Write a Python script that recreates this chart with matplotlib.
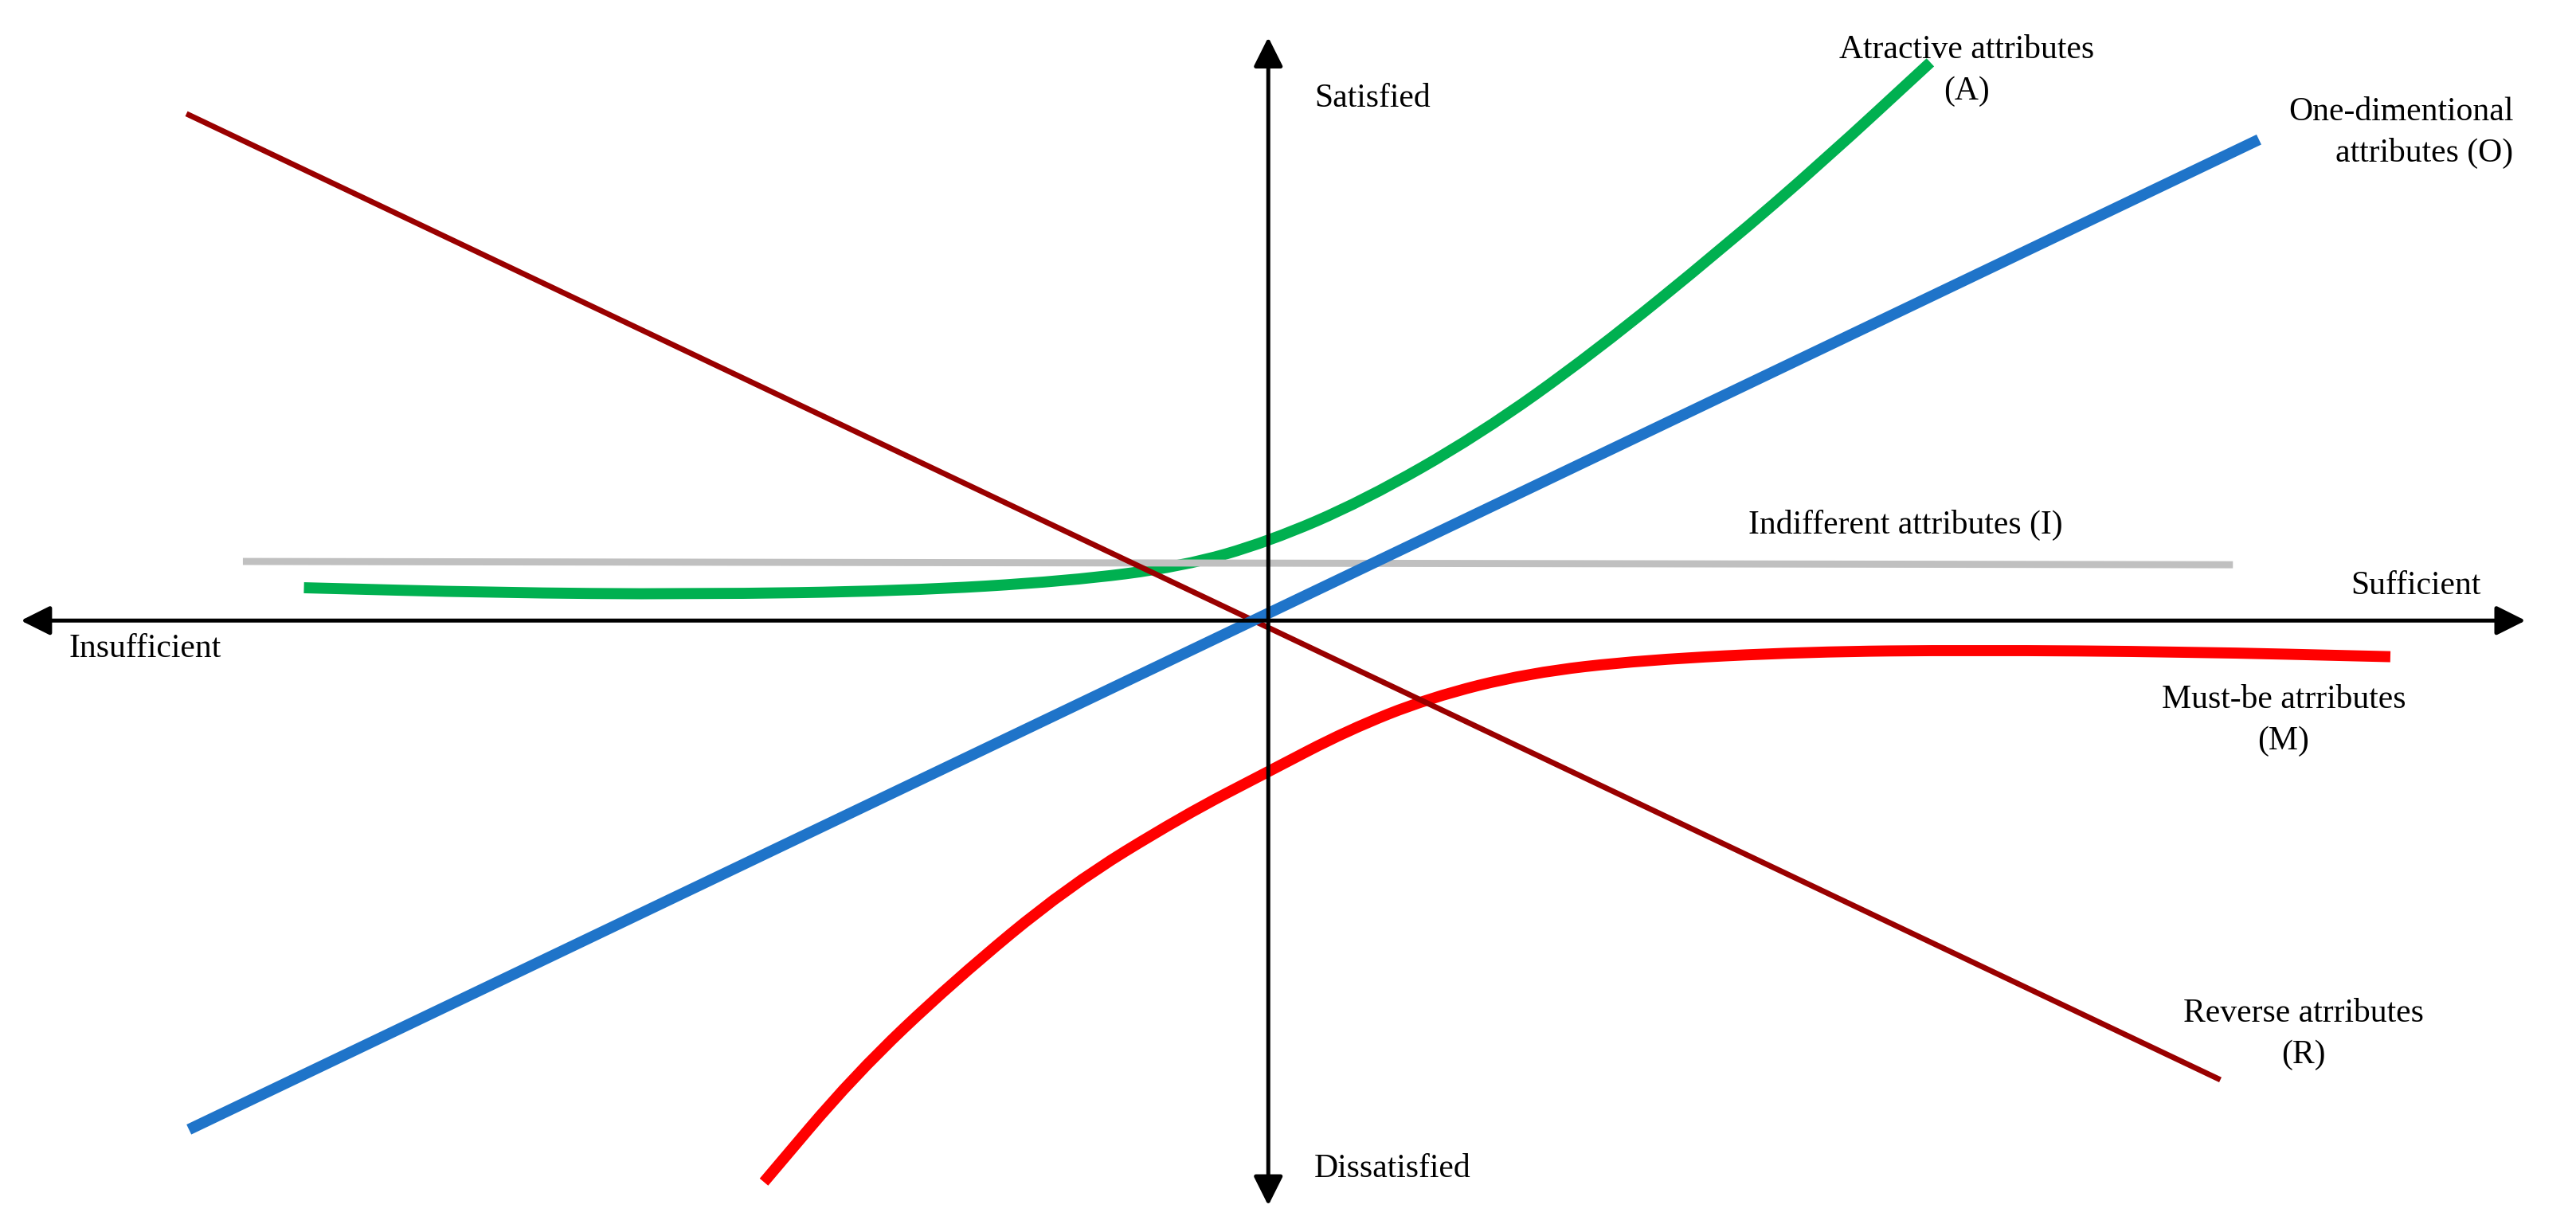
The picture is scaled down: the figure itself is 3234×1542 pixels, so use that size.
import numpy as np
import matplotlib.pyplot as plt
from matplotlib.path import Path
from matplotlib.patches import PathPatch

# curve values, x/y relative to the origin (display pixel units, y up)
one_dim_x = [-657, 603]
one_dim_y = [-310, 293]
reverse_x = [-657, 578]
reverse_y = [308, -279]
indiff_x = [-622, 585]
indiff_y = [36, 34]
attr_x = [-587, -472, -352, -222, -122, -52, 0, 58, 128, 198, 278, 338, 403]
attr_y = [20, 17, 16, 18, 24, 33, 48, 73, 113, 163, 228, 280, 340]
must_x = [-307, -252, -192, -122, -52, 0, 48, 98, 158, 228, 328, 428, 558, 683]
must_y = [-342, -277, -220, -162, -119, -92, -67, -47, -32, -24, -19, -18, -19, -22]

ox, oy = 772, 378
W, H = 1568, 748


def smooth_path(xs, ys):
    # quadratic bezier through midpoints, control points are the read values
    p = list(zip(xs, ys))
    verts = [p[0], ((p[0][0] + p[1][0]) / 2, (p[0][1] + p[1][1]) / 2)]
    codes = [Path.MOVETO, Path.LINETO]
    for i in range(1, len(p) - 1):
        mid = ((p[i][0] + p[i + 1][0]) / 2, (p[i][1] + p[i + 1][1]) / 2)
        verts += [p[i], mid]
        codes += [Path.CURVE3, Path.CURVE3]
    verts.append(p[-1])
    codes.append(Path.LINETO)
    return Path(verts, codes)


fig = plt.figure(figsize=(16.17, 7.71), dpi=200)
ax = fig.add_axes([0, 0, 1, 1])
ax.set_xlim(-ox, W - ox)
ax.set_ylim(oy - H, oy)
ax.axis('off')
plt.rcParams['font.family'] = ['Liberation Serif', 'DejaVu Serif']

arrow = dict(arrowstyle='<|-|>', color='black', lw=1.8, mutation_scale=28)
ax.annotate('', xy=(10 - ox, 0), xytext=(1540 - ox, 0), arrowprops=arrow)
ax.annotate('', xy=(0, oy - 20), xytext=(0, oy - 737), arrowprops=arrow)

ax.plot(indiff_x, indiff_y, color='#c0c0c0', lw=3.2)
ax.plot(reverse_x, reverse_y, color='#990000', lw=2.5)
ax.plot(one_dim_x, one_dim_y, color='#1f74c9', lw=5, solid_capstyle='butt')
ax.add_patch(PathPatch(smooth_path(attr_x, attr_y), fill=False, ec='#00b050', lw=5, capstyle='butt'))
ax.add_patch(PathPatch(smooth_path(must_x, must_y), fill=False, ec='#ff0000', lw=5, capstyle='butt'))

fs = 15
ax.text(800 - ox, oy - 60, 'Satisfied', fontsize=fs, va='center')
ax.text(800 - ox, oy - 712, 'Dissatisfied', fontsize=fs, va='center')
ax.text(42 - ox, oy - 395, 'Insufficient', fontsize=fs, va='center')
ax.text(1510 - ox, oy - 357, 'Sufficient', fontsize=fs, va='center', ha='right')
ax.text(1197 - ox, oy - 43, 'Atractive attributes\n(A)', fontsize=fs, ha='center', va='center', linespacing=1.45)
ax.text(1530 - ox, oy - 81, 'One-dimentional\nattributes (O)', fontsize=fs, ha='right', va='center', linespacing=1.45)
ax.text(1160 - ox, oy - 320, 'Indifferent attributes (I)', fontsize=fs, ha='center', va='center')
ax.text(1390 - ox, oy - 439, 'Must-be atrributes\n(M)', fontsize=fs, ha='center', va='center', linespacing=1.45)
ax.text(1402 - ox, oy - 630, 'Reverse atrributes\n(R)', fontsize=fs, ha='center', va='center', linespacing=1.45)

fig.savefig('out.png')
